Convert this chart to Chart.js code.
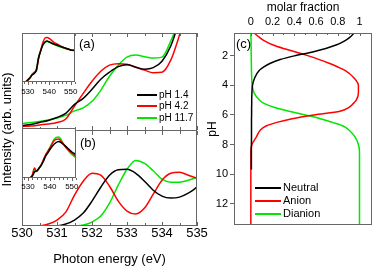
<!DOCTYPE html>
<html>
<head>
<meta charset="utf-8">
<script src="https://cdn.jsdelivr.net/npm/chart.js@4.4.1/dist/chart.umd.min.js"></script>
<style>
  html, body { margin: 0; padding: 0; background: #fff; }
  #wrap { position: relative; width: 373px; height: 269px; overflow: hidden; }
  canvas { position: absolute; }
</style>
</head>
<body>
<div id="wrap">
  <canvas id="main" width="210" height="269" style="left:0;top:0"></canvas>
  <canvas id="insetA" width="68" height="70" style="left:15px;top:28px"></canvas>
  <canvas id="insetB" width="68" height="70" style="left:15px;top:123px"></canvas>
  <canvas id="panelC" width="173" height="269" style="left:200px;top:0"></canvas>
</div>
<script>
// photon energy grid shared by panels (a) and (b), eV
const energy = [530, 530.25, 530.5, 530.75, 531, 531.25, 531.5, 531.75, 532, 532.25, 532.5,
  532.75, 533, 533.25, 533.5, 533.75, 534, 534.25, 534.5, 534.75, 535];

// panel (a), arb. units (values above 1 run off the top of the frame)
const aPh14 = [0.042, 0.052, 0.073, 0.094, 0.125, 0.167, 0.26, 0.323, 0.417, 0.521, 0.594,
  0.651, 0.672, 0.646, 0.625, 0.641, 0.708, 0.865, 1.135, 1.45, 1.76];
const aPh42 = [0.031, 0.036, 0.047, 0.057, 0.073, 0.109, 0.244, 0.375, 0.5, 0.604, 0.667,
  0.682, 0.677, 0.646, 0.615, 0.589, 0.594, 0.719, 0.979, 1.29, 1.6];
const aPh117 = [0.063, 0.073, 0.083, 0.099, 0.12, 0.146, 0.193, 0.224, 0.292, 0.406, 0.552,
  0.667, 0.75, 0.771, 0.755, 0.74, 0.75, 0.917, 1.156, 1.5, 1.8];

// panel (b)
const bPh14 = [null, null, null, null, 0, 0.021, 0.062, 0.134, 0.258, 0.402, 0.526,
  0.582, 0.588, 0.546, 0.464, 0.371, 0.309, 0.289, 0.299, 0.34, 0.402];
const bPh42 = [null, null, 0, 0.021, 0.062, 0.144, 0.32, 0.464, 0.546, 0.526, 0.412,
  0.258, 0.155, 0.124, 0.186, 0.33, 0.474, 0.546, 0.557, 0.526, 0.495];
const bPh117 = [null, null, null, null, null, null, 0, 0.01, 0.041, 0.103, 0.237,
  0.423, 0.588, 0.68, 0.649, 0.572, 0.485, 0.454, 0.454, 0.474, 0.505];

// insets, wide energy range
const insetEnergy = [529, 530, 531, 532, 533, 534, 535, 536, 537, 538, 539, 540, 542, 544, 546, 548, 550, 552];
const insA14 = [0, 0.041, 0.082, 0.143, 0.173, 0.245, 0.49, 0.633, 0.755, 0.816, 0.837, 0.816, 0.776, 0.745, 0.714, 0.684, 0.653, 0.643];
const insA42 = [0, 0.03, 0.09, 0.15, 0.2, 0.23, 0.47, 0.65, 0.8, 0.898, 0.908, 0.888, 0.816, 0.765, 0.714, 0.684, 0.653, 0.643];
const insA117 = [0.01, 0.05, 0.09, 0.16, 0.18, 0.27, 0.5, 0.64, 0.75, 0.806, 0.827, 0.816, 0.776, 0.735, 0.704, 0.673, 0.653, 0.633];
const insB14 = [null, null, 0, 0.04, 0.12, 0.14, 0.19, 0.25, 0.33, 0.43, 0.5, 0.57, 0.68, 0.73, 0.68, 0.6, 0.52, 0.47];
const insB42 = [null, null, 0, 0.06, 0.2, 0.13, 0.2, 0.26, 0.36, 0.46, 0.53, 0.6, 0.75, 0.78, 0.68, 0.58, 0.5, 0.43];
const insB117 = [null, null, 0, 0.05, 0.17, 0.14, 0.19, 0.26, 0.35, 0.45, 0.53, 0.61, 0.78, 0.82, 0.7, 0.57, 0.47, 0.4];

// panel (c): molar fraction vs pH
const phGrid = [0.45, 0.75, 1, 1.25, 1.5, 1.75, 2, 2.25, 2.5, 2.75, 3, 3.5, 4, 4.5, 5, 5.25, 5.5,
  5.75, 6, 6.25, 6.5, 6.75, 7, 7.5, 8, 8.5, 9, 9.7, 10, 11, 12, 13, 13.45];
const neutral = [0.95, 0.91, 0.86, 0.79, 0.69, 0.56, 0.4, 0.27, 0.18, 0.12, 0.075, 0.035, 0.015, 0.01, 0.008, 0.008, 0.007,
  0.007, 0.007, 0.006, 0.006, 0.006, 0.006, 0.006, 0.005, 0.005, 0.005, 0.005, null, null, null, null, null];
const anion = [0.03, 0.08, 0.13, 0.2, 0.3, 0.42, 0.53, 0.63, 0.72, 0.8, 0.87, 0.95, 0.99, 0.99, 0.97, 0.94, 0.9,
  0.82, 0.58, 0.38, 0.24, 0.14, 0.09, 0.05, 0.01, 0, 0, 0, 0, 0, 0, 0, 0];
const dianion = [0, 0.001, 0.002, 0.002, 0.003, 0.003, 0.004, 0.004, 0.005, 0.005, 0.006, 0.008, 0.012, 0.03, 0.08, 0.13, 0.22,
  0.35, 0.5, 0.64, 0.75, 0.85, 0.9, 0.96, 0.99, 1, 1, 1, 1, 1, 1, 1, 1];

const FONT = 'Arial, "Liberation Sans", sans-serif';
const FRAME = '#666';
const BLACK = '#000000', RED = '#ff0000', GREEN = '#00e600';

Chart.defaults.font.family = FONT;
Chart.defaults.color = '#000';

function line(label, color, values, axis) {
  return {
    label: label, data: values, yAxisID: axis,
    borderColor: color, borderWidth: 1.5, pointRadius: 0, fill: false,
    cubicInterpolationMode: 'monotone'
  };
}

function frame(ctx, l, t, r, b) {
  l = Math.round(l); t = Math.round(t); r = Math.round(r); b = Math.round(b);
  ctx.save();
  ctx.strokeStyle = FRAME;
  ctx.lineWidth = 1;
  ctx.strokeRect(l + 0.5, t + 0.5, r - l - 1, b - t - 1);
  ctx.restore();
}

// small tick marks along one edge of a frame
function tickRow(ctx, scale, from, to, step, edge, len) {
  ctx.save();
  ctx.strokeStyle = FRAME;
  ctx.lineWidth = 1;
  ctx.beginPath();
  for (let v = from; v <= to + 1e-6; v += step) {
    const p = Math.round(scale.getPixelForValue(v)) + 0.5;
    if (scale.isHorizontal()) { ctx.moveTo(p, edge); ctx.lineTo(p, edge + len); }
    else { ctx.moveTo(edge, p); ctx.lineTo(edge + len, p); }
  }
  ctx.stroke();
  ctx.restore();
}

function note(ctx, text, x, y, size) {
  ctx.save();
  ctx.fillStyle = '#000';
  ctx.font = size + 'px ' + FONT;
  ctx.textAlign = 'left';
  ctx.textBaseline = 'middle';
  ctx.fillText(text, x, y);
  ctx.restore();
}

function lineKey(ctx, datasets, x, y, dy, len, size) {
  datasets.forEach((ds, i) => {
    const yy = Math.round(y + i * dy);
    ctx.save();
    ctx.strokeStyle = ds.borderColor;
    ctx.lineWidth = 2;
    ctx.beginPath();
    ctx.moveTo(x, yy);
    ctx.lineTo(x + len, yy);
    ctx.stroke();
    ctx.restore();
    note(ctx, ds.label, x + len + 2, yy, size);
  });
}

const hidden = {
  ticks: { display: false },
  grid: { display: false, drawTicks: false },
  border: { display: false }
};

// ---- panels (a) and (b): one chart, two stacked y axes ----
const mainDeco = {
  id: 'mainDeco',
  afterDraw(chart) {
    const { ctx } = chart;
    const { x, ya, yb } = chart.scales;
    frame(ctx, x.left, ya.top, x.right, yb.bottom);
    const mid = Math.round(ya.bottom);
    ctx.save();
    ctx.strokeStyle = FRAME;
    ctx.beginPath();
    ctx.moveTo(Math.round(x.left), mid + 0.5);
    ctx.lineTo(Math.round(x.right), mid + 0.5);
    ctx.stroke();
    ctx.restore();
    const top = Math.round(ya.top), bot = Math.round(yb.bottom);
    [[0.5, 3], [1, 4]].forEach(([step, len]) => {
      tickRow(ctx, x, 530, 535, step, top, len);
      tickRow(ctx, x, 530, 535, step, mid, -len);
      tickRow(ctx, x, 530, 535, step, mid + 1, len);
      tickRow(ctx, x, 530, 535, step, bot, -len);
    });
    note(ctx, '(a)', 79, 44, 13);
    note(ctx, '(b)', 80, 143, 13);
    lineKey(ctx, chart.data.datasets.slice(0, 3), 137, 95, 11.3, 20, 10);
  }
};

new Chart(document.getElementById('main'), {
  type: 'line',
  data: {
    labels: energy,
    datasets: [
      line('pH 1.4', BLACK, aPh14, 'ya'),
      line('pH 4.2', RED, aPh42, 'ya'),
      line('pH 11.7', GREEN, aPh117, 'ya'),
      line('pH 1.4', BLACK, bPh14, 'yb'),
      line('pH 4.2', RED, bPh42, 'yb'),
      line('pH 11.7', GREEN, bPh117, 'yb')
    ]
  },
  options: {
    responsive: false,
    animation: false,
    devicePixelRatio: 1,
    layout: { padding: { top: 33, right: 13, bottom: 0, left: 0 } },
    plugins: { legend: { display: false }, tooltip: { enabled: false } },
    scales: {
      x: {
        type: 'linear', min: 530, max: 535,
        ticks: { stepSize: 1, padding: 0, font: { size: 13 }, maxRotation: 0, autoSkip: false },
        grid: { display: false, drawTicks: false },
        border: { display: false },
        title: { display: true, text: 'Photon energy (eV)', font: { size: 13 }, padding: { top: 0, bottom: 2 } },
        afterFit: s => { s.height = 43; }
      },
      yt: Object.assign({}, hidden, {
        type: 'linear', position: 'left', weight: 1, min: 0, max: 1,
        title: { display: true, text: 'Intensity (arb. units)', font: { size: 13 }, padding: 0 },
        afterFit: s => { s.width = 22; }
      }),
      yb: Object.assign({}, hidden, {
        type: 'linear', position: 'left', stack: 'ab', stackWeight: 1, min: 0, max: 1,
        afterFit: s => { s.width = 0; }
      }),
      ya: Object.assign({}, hidden, {
        type: 'linear', position: 'left', stack: 'ab', stackWeight: 1, min: 0, max: 1,
        afterFit: s => { s.width = 0; }
      })
    }
  },
  plugins: [mainDeco]
});

// ---- insets ----
function inset(id, blk, red, grn, padRight, axisHeight, labelPad) {
  const deco = {
    id: 'insetDeco',
    beforeDraw(chart) {
      const a = chart.chartArea;
      chart.ctx.save();
      chart.ctx.fillStyle = '#fff';
      chart.ctx.fillRect(a.left, a.top, a.right - a.left, a.bottom - a.top);
      chart.ctx.restore();
    },
    afterDraw(chart) {
      const { ctx, chartArea: a } = chart;
      frame(ctx, a.left, a.top, a.right, a.bottom);
      const b = Math.round(a.bottom);
      tickRow(ctx, chart.scales.x, 528, 552, 2, b, 2);
      tickRow(ctx, chart.scales.x, 530, 550, 10, b, 3);
    }
  };
  new Chart(document.getElementById(id), {
    type: 'line',
    data: {
      labels: insetEnergy,
      datasets: [line('pH 1.4', BLACK, blk, 'y'), line('pH 4.2', RED, red, 'y'), line('pH 11.7', GREEN, grn, 'y')]
    },
    options: {
      responsive: false,
      animation: false,
      devicePixelRatio: 1,
      layout: { padding: { top: 5, right: padRight, bottom: 0, left: 7 } },
      plugins: { legend: { display: false }, tooltip: { enabled: false } },
      scales: {
        x: {
          type: 'linear', min: 527.3, max: 552,
          ticks: { stepSize: 10, includeBounds: false, padding: labelPad, font: { size: 8 }, maxRotation: 0, autoSkip: false },
          grid: { display: false, drawTicks: false },
          border: { display: false },
          afterFit: s => { s.height = axisHeight; }
        },
        y: Object.assign({}, hidden, { type: 'linear', min: 0, max: 1, afterFit: s => { s.width = 0; } })
      }
    },
    plugins: [deco]
  });
}
inset('insetA', insA14, insA42, insA117, 7, 16, 5);
inset('insetB', insB14, insB42, insB117, 6, 15, 4);

// ---- panel (c) ----
const cDeco = {
  id: 'cDeco',
  afterDraw(chart) {
    const { ctx, chartArea: a } = chart;
    frame(ctx, a.left, a.top, a.right, a.bottom);
    tickRow(ctx, chart.scales.x, 0, 1, 0.1, Math.round(a.top), 2);
    tickRow(ctx, chart.scales.x, 0, 1, 0.2, Math.round(a.top), 3);
    note(ctx, '(c)', 36, 44, 13);
    lineKey(ctx, chart.data.datasets, 55, 188, 13, 26, 11);
  }
};

new Chart(document.getElementById('panelC'), {
  type: 'line',
  data: {
    labels: phGrid,
    datasets: [
      line('Neutral', BLACK, neutral, 'y'),
      line('Anion', RED, anion, 'y'),
      line('Dianion', GREEN, dianion, 'y')
    ]
  },
  options: {
    indexAxis: 'y',
    responsive: false,
    animation: false,
    devicePixelRatio: 1,
    layout: { padding: { top: 0, right: 1, bottom: 44, left: 0 } },
    plugins: { legend: { display: false }, tooltip: { enabled: false } },
    scales: {
      x: {
        type: 'linear', position: 'top', min: -0.155, max: 1.115,
        ticks: {
          stepSize: 0.2, includeBounds: false, padding: 4, font: { size: 11 }, maxRotation: 0, autoSkip: false,
          callback: v => String(Math.round(v * 10) / 10)
        },
        grid: { display: false, drawTicks: false },
        border: { display: false },
        title: { display: true, text: 'molar fraction', font: { size: 12 }, padding: 0 },
        afterFit: s => { s.height = 33; }
      },
      y: {
        type: 'linear', reverse: true, min: 0.45, max: 13.45,
        ticks: { stepSize: 2, includeBounds: false, padding: 2, font: { size: 11 } },
        grid: { drawOnChartArea: false, drawTicks: true, tickLength: 4, color: FRAME },
        border: { display: false },
        title: { display: true, text: 'pH', font: { size: 12 }, padding: { top: 5, bottom: 0 } },
        afterFit: s => { s.width = 34; }
      }
    }
  },
  plugins: [cDeco]
});
</script>
</body>
</html>
